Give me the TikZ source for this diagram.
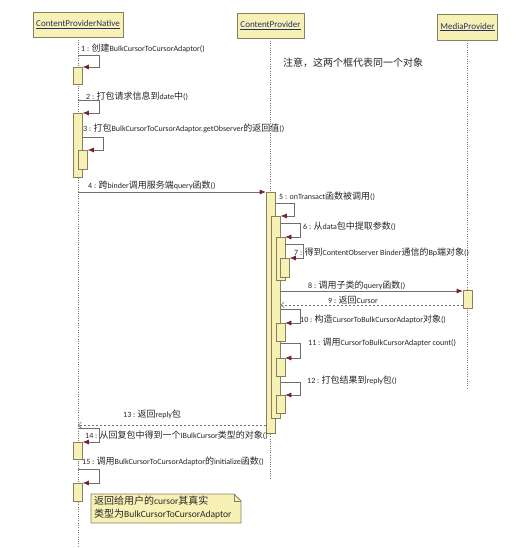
\documentclass[tikz,border=0pt]{standalone}
\usepackage{fontspec}
\setmainfont{Carlito}
\newfontfamily\cjk{Noto Sans CJK SC}
\usetikzlibrary{arrows.meta}
\newcommand\zh[1]{{\cjk\fontsize{9}{10}\selectfont #1}}
\newcommand\zhb[1]{{\cjk\fontsize{10}{11}\selectfont #1}}
\definecolor{boxfill}{HTML}{F8F1B6}
\definecolor{boxline}{HTML}{85805E}
\definecolor{arrowred}{HTML}{7A1F2E}
\definecolor{linegrey}{HTML}{6E6E6E}
\definecolor{lifegrey}{HTML}{7A7A7A}
\definecolor{headtext}{HTML}{283060}
\definecolor{labelcol}{HTML}{262626}
\tikzset{
  head/.style={draw=boxline, fill=boxfill, line width=0.8pt, inner sep=0pt, text=headtext, font=\fontsize{9}{10}\selectfont},
  life/.style={draw=lifegrey, line width=0.8pt, dash pattern=on 1pt off 1.3pt},
  bar/.style={draw=boxline, fill=boxfill, line width=0.6pt, inner sep=0pt, minimum width=9pt, anchor=north},
  msg/.style={draw=linegrey, line width=0.6pt, -{Latex[length=6pt,width=5pt,color=arrowred]}},
  ret/.style={draw=linegrey, line width=0.6pt, dash pattern=on 2pt off 2pt, -{Straight Barb[length=3pt,width=6pt]}},
  lbl/.style={anchor=west, inner sep=0pt, text=labelcol, font=\fontsize{8}{9}\selectfont},
}
\begin{document}
\begin{tikzpicture}[x=1pt,y=-1pt]
\fill[white] (0,0) rectangle (515,548);
\useasboundingbox (0,0) rectangle (515,548);
% heads
\node[head, minimum width=90pt, minimum height=25pt] (hN) at (78,24.5) {\underline{ContentProviderNative}};
\node[head, minimum width=67pt, minimum height=25pt] (hC) at (270.5,25.5) {\underline{ContentProvider}};
\node[head, minimum width=60pt, minimum height=26pt] (hM) at (467.5,27) {\underline{MediaProvider}};
% lifeline ends
\coordinate (eN) at (78,548);
\coordinate (eC) at (270.5,478);
\coordinate (eM) at (467.5,388);
\draw[life] (hN.south) -- (eN);
\draw[life] (hC.south) -- (eC);
\draw[life] (hM.south) -- (eM);
% note text top
\node[anchor=west, inner sep=0pt, text=labelcol] (topnote) at (283,63) {\zhb{注意，这两个框代表同一个对象}};
% activation bars
\node[bar, minimum height=17pt] (b1) at (78,67) {};
\node[bar, minimum height=64pt] (b2) at (78,113) {};
\node[bar, minimum height=19pt] (b3) at (83,150) {};
\node[bar, minimum height=241pt] (bA) at (270.5,192) {};
\node[bar, minimum height=202pt] (bB) at (276,216) {};
\node[bar, minimum height=43pt] (bC) at (280.5,237) {};
\node[bar, minimum height=19pt] (bD) at (285,258) {};
\node[bar, minimum height=18pt] (bE) at (280.5,323) {};
\node[bar, minimum height=18pt] (bF) at (280.5,358) {};
\node[bar, minimum height=18pt] (bG) at (280.5,395) {};
\node[bar, minimum height=18pt] (bM) at (467.5,290) {};
\node[bar, minimum height=17pt] (b14) at (78,442) {};
\node[bar, minimum height=18pt] (b15) at (78,483) {};
% start points
\coordinate (s1) at (78,55);
\coordinate (s2) at (78,100);
\coordinate (s3) at (82.5,137);
\coordinate (s4) at (78,192);
\coordinate (s5) at (275,203);
\coordinate (s6) at (280.5,223);
\coordinate (s7) at (285,244);
\coordinate (s8) at (280.5,291);
\coordinate (s9) at (463,305);
\coordinate (s10) at (280.5,309);
\coordinate (s11) at (280.5,343);
\coordinate (s12) at (280.5,382);
\coordinate (s13) at (266,425);
\coordinate (s14) at (78,428);
\coordinate (s15) at (78,469);
% self messages
\draw[msg] (s1) -- ++(21,0) |- (b1.north east);
\draw[msg] (s2) -- ++(21,0) |- (b2.north east);
\draw[msg] (s3) -- ++(20.5,0) |- (b3.north east);
\draw[msg] (s5) -- ++(19,0) |- (bB.north east);
\draw[msg] (s6) -- ++(19.5,0) |- (bC.north east);
\draw[msg] (s7) -- ++(18.5,0) |- (bD.north east);
\draw[msg] (s10) -- ++(19.5,0) |- (bE.north east);
\draw[msg] (s11) -- ++(19.5,0) |- (bF.north east);
\draw[msg] (s12) -- ++(19.5,0) |- (bG.north east);
\draw[msg] (s14) -- ++(21,0) |- (b14.north east);
\draw[msg] (s15) -- ++(21,0) |- (b15.north east);
% calls and returns
\draw[msg] (s4) -- (bA.north west);
\draw[msg] (s8) -- (s8 -| bM.west);
\draw[ret] (s9) -- (s9 -| bB.east);
\draw[ret] (s13) -- (s13 -| hN.south);
% labels
\node[lbl] (l1) at (81,48) {1 : \zh{创建}BulkCursorToCursorAdaptor()};
\node[lbl] (l2) at (86,96) {2 : \zh{打包请求信息到}date\zh{中}()};
\node[lbl] (l3) at (83,128) {3 : \zh{打包}BulkCursorToCursorAdaptor.getObserver\zh{的返回值}()};
\node[lbl] (l4) at (88,185) {4 : \zh{跨}binder\zh{调用服务端}query\zh{函数}()};
\node[lbl] (l5) at (279,196) {5 : onTransact\zh{函数被调用}()};
\node[lbl] (l6) at (303,226) {6 : \zh{从}data\zh{包中提取参数}()};
\node[lbl] (l7) at (294,252) {7 : \zh{得到}ContentObserver Binder\zh{通信的}Bp\zh{端对象}()};
\node[lbl] (l8) at (308,285) {8 : \zh{调用子类的}query\zh{函数}()};
\node[lbl] (l9) at (328,300) {9 : \zh{返回}Cursor};
\node[lbl] (l10) at (300,319) {10 : \zh{构造}CursorToBulkCursorAdaptor\zh{对象}()};
\node[lbl] (l11) at (308,342) {11 : \zh{调用}CursorToBulkCursorAdapter count()};
\node[lbl] (l12) at (307,380) {12 : \zh{打包结果到}reply\zh{包}()};
\node[lbl] (l13) at (123,414) {13 : \zh{返回}reply\zh{包}};
\node[lbl] (l14) at (85,435) {14 : \zh{从回复包中得到一个}IBulkCursor\zh{类型的对象}()};
\node[lbl] (l15) at (82,461) {15 : \zh{调用}BulkCursorToCursorAdaptor\zh{的}initialize\zh{函数}()};
% note
\draw[draw=boxline, fill=boxfill, line width=0.8pt] (91,494) -- (234,494) -- (241,501) -- (241,523) -- (91,523) -- cycle;
\draw[draw=boxline, line width=0.6pt] (234,494) -- (234,501) -- (241,501);
\node[anchor=north west, inner sep=0pt, align=left, text=labelcol, font=\fontsize{9.5}{13}\selectfont] (notetext) at (94,496) {\zhb{返回给用户的}cursor\zhb{其真实}\\\zhb{类型为}BulkCursorToCursorAdaptor};
\end{tikzpicture}
\end{document}
